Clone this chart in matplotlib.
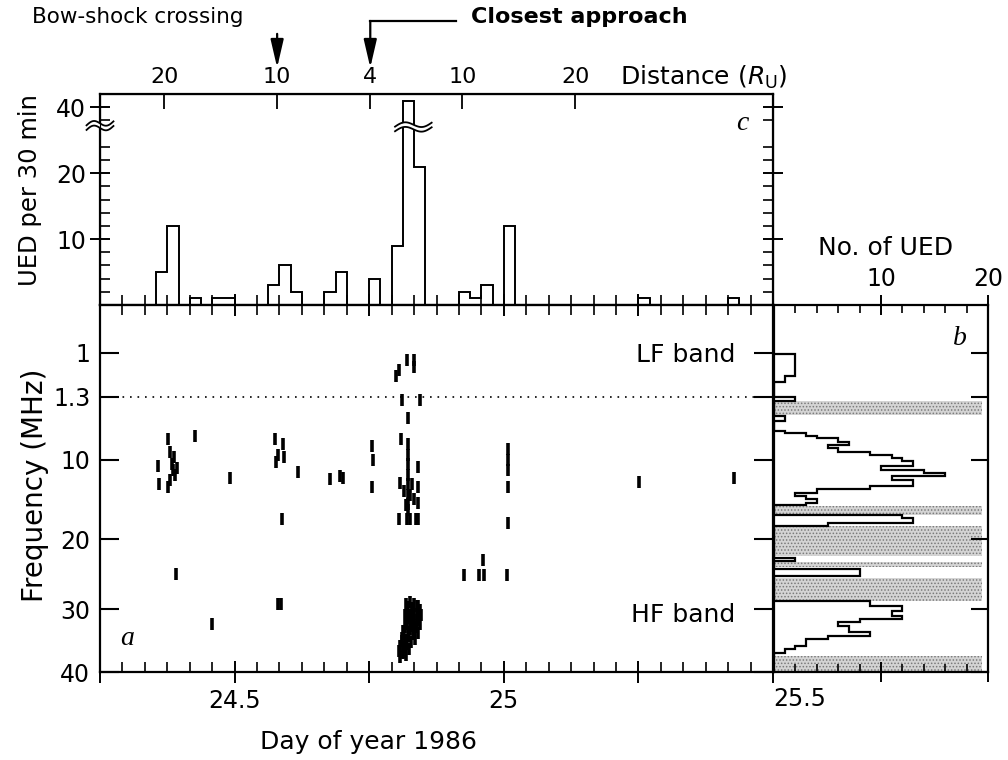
import numpy as np
import matplotlib
matplotlib.use('Agg')
import matplotlib.pyplot as plt
import matplotlib.transforms as mtransforms
from matplotlib.ticker import FixedLocator, MultipleLocator, FuncFormatter, NullFormatter

plt.rcParams['font.family'] = ['DejaVu Sans']
plt.rcParams['font.size'] = 16
plt.rcParams['hatch.linewidth'] = 0.7

# ---------------- data ----------------
day_start = 24.25
day_end = 25.5
bin_days = 1.0 / 48          # 30 min bins

# panel c: UED per 30 min
ued_per_30min = [0, 0, 0, 0, 0, 5, 12, 0, 1, 0,
                 1, 1, 0, 0, 0, 3, 6, 2, 0, 0,
                 2, 5, 0, 0, 4, 0, 9, 41, 21, 0,
                 0, 0, 2, 1, 3, 0, 12, 0, 0, 0,
                 0, 0, 0, 0, 0, 0, 0, 0, 1, 0,
                 0, 0, 0, 0, 0, 0, 1, 0, 0, 0]

# top axis: distance from Uranus
dist_days = [24.369, 24.579, 24.752, 24.923, 25.133]
dist_labels = ['20', '10', '4', '10', '20']
bow_shock_day = 24.579
closest_day = 24.752

# panel a: individual UED events (day, MHz)
ued_day = [24.376, 24.380, 24.384, 24.386, 24.389, 24.393, 24.376, 24.358, 24.360, 24.380, 24.388, 24.391,
           24.427, 24.492, 24.458,
           24.575, 24.581, 24.590, 24.577, 24.592, 24.618, 24.588, 24.581, 24.586,
           24.677, 24.696, 24.702,
           24.756, 24.757, 24.756,
           24.800, 24.806, 24.821, 24.834, 24.834,
           24.811, 24.845, 24.822, 24.809,
           24.822, 24.822, 24.822, 24.822, 24.822, 24.822, 24.822, 24.822,
           24.841, 24.841, 24.808, 24.815, 24.826, 24.834, 24.818, 24.829, 24.841,
           24.806, 24.821, 24.826, 24.836, 24.841,
           25.008, 25.008, 25.008, 25.008, 25.008,
           24.927, 24.954, 24.964, 24.962, 25.006,
           25.252, 25.428,
           24.818, 24.826, 24.834, 24.841, 24.821, 24.830, 24.838, 24.845, 24.816, 24.824,
           24.833, 24.842, 24.819, 24.828, 24.837, 24.844, 24.813, 24.822, 24.831, 24.840,
           24.810, 24.818, 24.827, 24.835, 24.808, 24.815, 24.823, 24.812, 24.819, 24.808,
           24.822, 24.830, 24.838, 24.846, 24.825, 24.834, 24.843, 24.820, 24.829, 24.839,
           24.817, 24.826, 24.834, 24.814, 24.823, 24.811, 24.820, 24.816, 24.806, 24.813]
ued_freq = [7.2, 8.9, 10.6, 11.3, 11.9, 11.0, 13.4, 10.8, 13.1, 12.5, 9.7, 25.0,
            6.8, 12.3, 32.4,
            7.2, 9.3, 7.9, 10.3, 9.7, 11.5, 17.5, 29.3, 29.3,
            12.4, 12.1, 12.3,
            8.1, 10.0, 13.4,
            1.16, 1.12, 1.05, 1.05, 1.10,
            1.72, 1.72, 4.3, 7.2,
            7.9, 9.3, 10.6, 11.9, 13.1, 14.4, 15.6, 16.3,
            10.9, 13.4, 12.9, 13.9, 14.5, 15.0, 15.7, 13.1, 15.4,
            17.5, 17.5, 17.5, 17.5, 17.5,
            8.6, 10.0, 11.3, 13.4, 17.9,
            25.1, 25.1, 25.1, 22.9, 25.1,
            12.8, 12.3,
            29.2, 29.0, 29.3, 29.6, 30.2, 30.4, 30.8, 30.1, 31.0, 31.4,
            31.7, 31.2, 32.3, 32.6, 32.9, 32.4, 33.4, 33.6, 34.0, 33.8,
            34.6, 34.9, 35.2, 34.7, 35.8, 36.1, 36.4, 37.0, 37.3, 37.6,
            29.7, 29.8, 29.5, 30.9, 30.9, 31.1, 31.8, 31.9, 32.0, 32.5,
            32.8, 33.1, 33.2, 33.9, 34.3, 35.0, 35.5, 35.6, 36.6, 36.8]

# panel b: number of UED per frequency channel
b_edges = [1.01, 1.16, 1.20, 1.30, 1.95, 3.92, 4.70, 6.09, 6.3, 6.7,
           7.0, 7.5, 7.95, 8.4, 8.9, 9.3, 9.77, 10.2, 10.8, 11.25,
           11.7, 12.1, 12.5, 12.9, 13.3, 13.75, 14.2, 14.6, 15.0, 15.4,
           15.75, 16.9, 17.3, 17.9, 18.3, 22.6, 23.1, 24.3, 25.2, 28.8,
           29.5, 30.3, 31.05, 31.6, 32.1, 32.65, 33.2, 33.7, 34.2, 34.8,
           35.3, 35.8, 36.35, 36.9, 37.4]
b_counts = [2, 1, 0, 2, 0, 1, 0, 1, 3, 4,
            6, 7, 5, 6, 9, 11, 12, 13, 10, 14,
            16, 11, 13, 13, 9, 4, 2, 3, 4, 3,
            0, 12, 13, 5, 0, 2, 0, 8, 0, 9,
            12, 11, 12, 8, 6, 7, 7, 9, 5, 3,
            3, 2, 1, 0]
# interference bands (shaded)
band_lo = [1.95, 15.8, 18.3, 23.3, 25.5, 37.4]
band_hi = [3.8, 16.9, 22.4, 24.0, 28.8, 40.0]

freq_ticks = [1, 1.3, 10, 20, 30, 40]
freq_ticklabels = ['1', '1.3', '10', '20', '30', '40']

# ---------------- frequency axis (LF + HF bands) ----------------
freq_knots = [0.67, 1.0, 1.3, 10, 20, 30, 40]
pos_knots = [0, 48, 92, 155, 235, 305, 368]


def f2p(f):
    return np.interp(f, freq_knots, pos_knots)


def p2f(p):
    return np.interp(p, pos_knots, freq_knots)


def broken(v):
    v = np.asarray(v, dtype=float)
    return np.where(v > 30, v - 10, v)


W, H = 1008, 760
fig = plt.figure(figsize=(W / 100, H / 100), dpi=100)


def rect(x0, y0, x1, y1):
    return [x0 / W, 1 - y1 / H, (x1 - x0) / W, (y1 - y0) / H]


ax_c = fig.add_axes(rect(100, 94, 773, 305))
ax_a = fig.add_axes(rect(100, 305, 773, 672))
ax_b = fig.add_axes(rect(774, 305, 988, 672), sharey=ax_a)

for ax in (ax_a, ax_b, ax_c):
    for s in ax.spines.values():
        s.set_linewidth(1.6)

# ---------------- panel c ----------------
edges_c = day_start + bin_days * np.arange(len(ued_per_30min) + 1)
ax_c.stairs(broken(ued_per_30min), edges_c, color='k', lw=1.4)
ax_c.set_xlim(day_start, day_end)
ax_c.set_ylim(0, 32)
ax_c.yaxis.set_major_locator(FixedLocator([10, 20, 30]))
ax_c.set_yticklabels(['10', '20', '40'])
ax_c.yaxis.set_minor_locator(FixedLocator([2, 4, 6, 8, 12, 14, 16, 18, 22, 24, 28]))
ax_c.tick_params(axis='y', which='major', direction='inout', length=14, width=1.4,
                 left=True, right=True, pad=3, labelsize=17)
ax_c.tick_params(axis='y', which='minor', direction='in', length=7, width=1.2,
                 left=True, right=True)
ax_c.xaxis.set_major_locator(MultipleLocator(1 / 24))
ax_c.xaxis.set_major_formatter(NullFormatter())
ax_c.tick_params(axis='x', which='both', direction='in', length=7, width=1.2,
                 bottom=True, top=False, labelbottom=False)

# broken axis marks
bt = mtransforms.blended_transform_factory(ax_c.transAxes, ax_c.transData)
t = np.linspace(0, 1, 40)
wave = 0.5 * np.sin(2 * np.pi * t) + 0.6 * t
for (x0, x1, y0, tr) in [(-0.02, 0.02, 26.9, bt),
                         (24.798, 24.866, 26.7, ax_c.transData)]:
    xs = x0 + (x1 - x0) * t
    ax_c.fill_between(xs, y0 - 0.35 + wave, y0 + 0.35 + wave, color='white',
                      transform=tr, clip_on=False, zorder=5, lw=0)
    for dy in (-0.35, 0.35):
        ax_c.plot(xs, y0 + dy + wave, color='k', lw=1.3, transform=tr,
                  clip_on=False, zorder=6)

ax_c.text(0.955, 0.86, 'c', transform=ax_c.transAxes, fontsize=20,
          family='Liberation Serif', style='italic', ha='center', va='center')

# distance axis on top
ax_t = ax_c.twiny()
ax_t.set_xlim(day_start, day_end)
ax_t.xaxis.set_major_locator(FixedLocator(dist_days))
ax_t.set_xticklabels(dist_labels)
ax_t.tick_params(axis='x', direction='in', length=11, width=1.3, pad=5, labelsize=16)
ax_t.text(0.773, 1.08, r'Distance ($R_{\mathrm{U}}$)', transform=ax_c.transAxes,
          ha='left', va='center', fontsize=18)

# arrows (x in days, y in axes fraction)
top_tr = ax_c.get_xaxis_transform()
arrow_style = dict(arrowstyle='-|>,head_length=0.95,head_width=0.22',
                   mutation_scale=18, lw=1.6, color='k', shrinkA=0, shrinkB=0)
ax_c.annotate('', xy=(bow_shock_day, 1.125), xytext=(bow_shock_day, 1.285),
              xycoords=top_tr, textcoords=top_tr, arrowprops=arrow_style,
              annotation_clip=False)
ax_c.annotate('', xy=(closest_day, 1.125), xytext=(closest_day, 1.346),
              xycoords=top_tr, textcoords=top_tr, arrowprops=arrow_style,
              annotation_clip=False)
ax_c.plot([closest_day, 24.911], [1.346, 1.346], color='k', lw=1.6,
          transform=top_tr, clip_on=False)
fig.text(32 / W, 1 - 17 / H, 'Bow-shock crossing', ha='left', va='center', fontsize=15.5)
fig.text(471 / W, 1 - 17 / H, 'Closest approach', ha='left', va='center',
         fontsize=16, fontweight='bold')

fig.text(30 / W, 1 - 190 / H, 'UED per 30 min', rotation=90, ha='center', va='center',
         fontsize=17.5)

# ---------------- panel a ----------------
ax_a.set_yscale('function', functions=(f2p, p2f))
ax_a.plot(ued_day, ued_freq, ls='none', marker='|', ms=8, mew=2.6, color='k')
ax_a.axhline(1.3, color='k', lw=1.2, ls=(0, (1, 3.5)))
ax_a.set_xlim(day_start, day_end)
ax_a.set_ylim(40, 0.67)
ax_a.yaxis.set_major_locator(FixedLocator(freq_ticks))
ax_a.yaxis.set_major_formatter(FuncFormatter(
    lambda v, p: freq_ticklabels[freq_ticks.index(round(v, 1))] if round(v, 1) in freq_ticks else ''))
ax_a.yaxis.set_minor_locator(FixedLocator([]))
ax_a.tick_params(axis='y', which='major', direction='in', length=14, width=1.5,
                 left=True, right=True, pad=7, labelsize=17)

ax_a.xaxis.set_major_locator(MultipleLocator(0.25))
ax_a.xaxis.set_minor_locator(MultipleLocator(1 / 24))
ax_a.xaxis.set_major_formatter(FuncFormatter(
    lambda v, p: ('%g' % round(v, 2)) if abs(v * 2 - round(v * 2)) < 1e-6 and v < 25.4 else ''))
ax_a.tick_params(axis='x', which='major', direction='inout', length=16, width=1.4,
                 bottom=True, top=True, pad=4, labelsize=17)
ax_a.tick_params(axis='x', which='minor', direction='in', length=7, width=1.2,
                 bottom=True, top=True)
xt = mtransforms.blended_transform_factory(ax_a.transData, ax_a.transAxes)
ax_a.text(day_end, -0.04, '25.5', transform=xt, ha='left', va='top', fontsize=17)

ax_a.text(0.9435, 0.864, 'LF band', transform=ax_a.transAxes, ha='right', va='center',
          fontsize=18)
ax_a.text(0.9435, 0.155, 'HF band', transform=ax_a.transAxes, ha='right', va='center',
          fontsize=18)
ax_a.text(0.04, 0.09, 'a', transform=ax_a.transAxes, fontsize=20,
          family='Liberation Serif', style='italic', ha='center', va='center')

fig.text(35 / W, 1 - 485 / H, 'Frequency (MHz)', rotation=90, ha='center', va='center',
         fontsize=20)
fig.text(368 / W, 1 - 742 / H, 'Day of year 1986', ha='center', va='center', fontsize=18)

# ---------------- panel b ----------------
for lo, hi in zip(band_lo, band_hi):
    ax_b.axhspan(lo, hi, xmin=0, xmax=0.97, facecolor='#d4d4d4', edgecolor='#7a7a7a',
                 hatch='.....', lw=0, zorder=1)
ax_b.stairs(b_counts, b_edges, orientation='horizontal', color='k', lw=1.6, zorder=3)
ax_b.set_xlim(0, 20)
ax_b.tick_params(axis='y', which='major', left=False, right=True, labelleft=False,
                 direction='in', length=12, width=1.5)
ax_b.xaxis.set_major_locator(FixedLocator([10, 20]))
ax_b.xaxis.set_minor_locator(MultipleLocator(2))
ax_b.tick_params(axis='x', which='major', direction='inout', length=14, width=1.4,
                 top=True, bottom=True, labeltop=True, labelbottom=False, pad=3,
                 labelsize=17)
ax_b.tick_params(axis='x', which='minor', direction='in', length=6, width=1.2,
                 top=True, bottom=True)
ax_b.text(0.52, 1.155, 'No. of UED', transform=ax_b.transAxes, ha='center', va='center',
          fontsize=18)
ax_b.text(0.87, 0.91, 'b', transform=ax_b.transAxes, fontsize=20,
          family='Liberation Serif', style='italic', ha='center', va='center')

fig.savefig('out.png', dpi=100)
